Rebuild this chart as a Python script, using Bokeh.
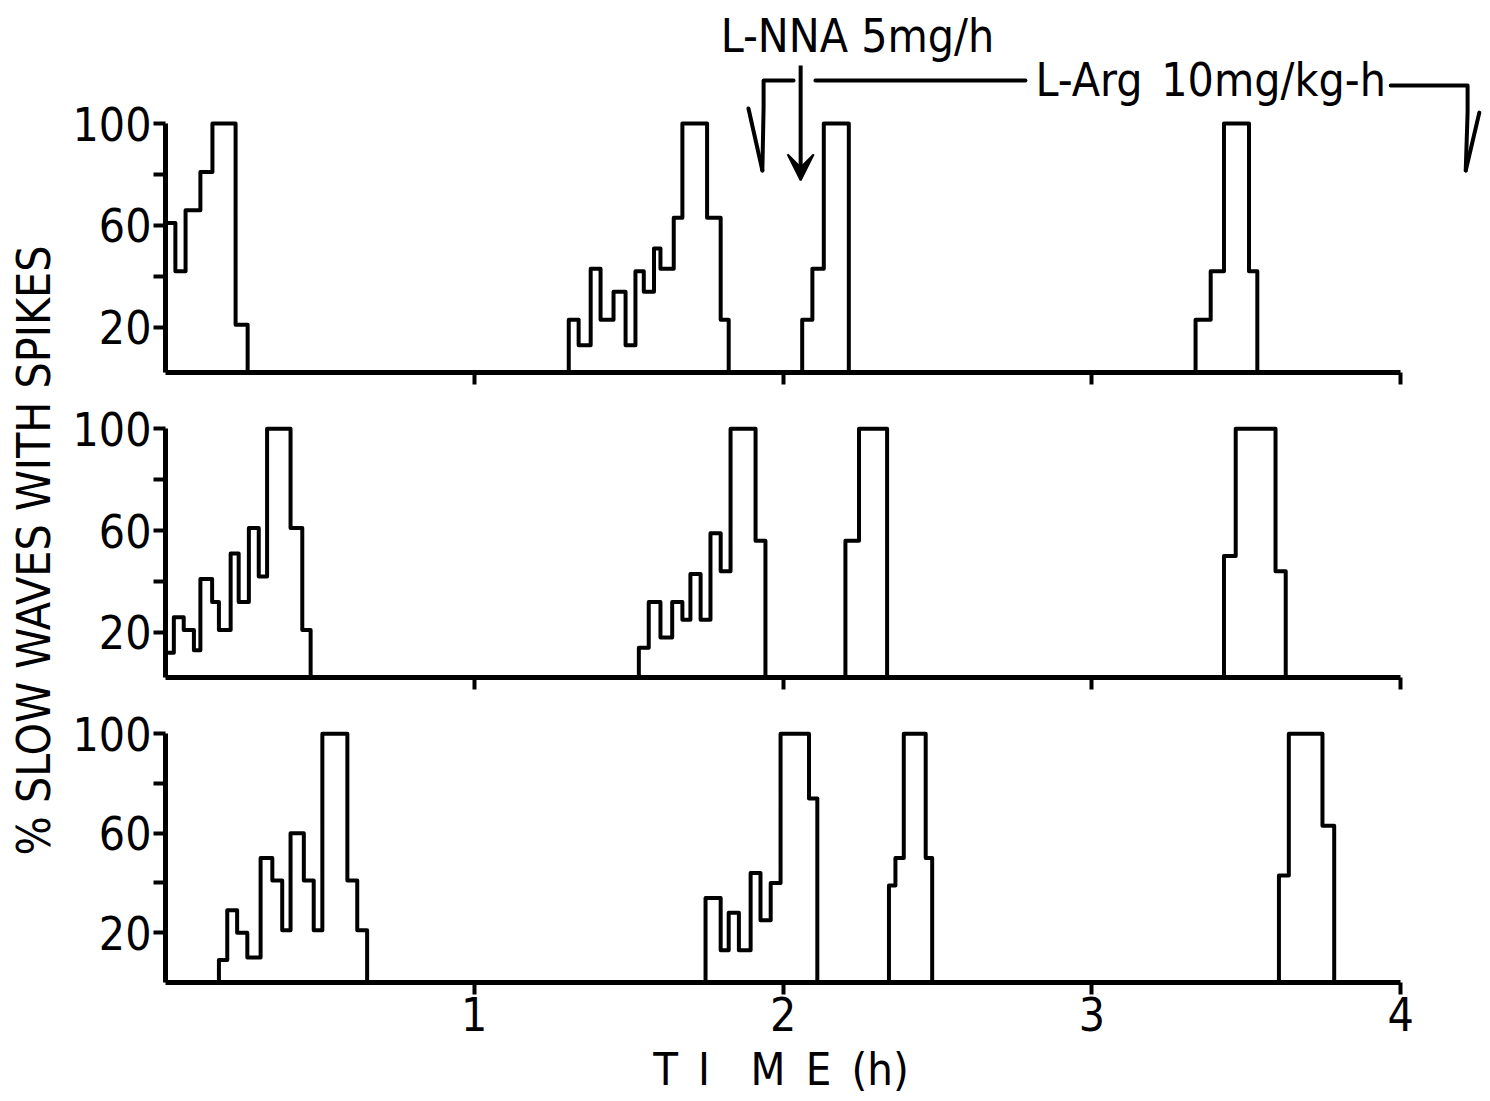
import math
from bokeh.plotting import figure
from bokeh.layouts import row, column
from bokeh.models import FixedTicker, Range1d, Arrow, VeeHead
from bokeh.core.properties import value
from bokeh.embed import file_html
from bokeh.resources import INLINE

FONT = "DejaVu Sans Condensed"

# ---- data: bin edges (h) and % slow waves with spikes for each burst ----
top_edges = [
    [0.000, 0.032, 0.065, 0.113, 0.152, 0.227, 0.266],
    [1.306, 1.338, 1.377, 1.409, 1.451, 1.490, 1.522, 1.549, 1.582, 1.603, 1.646, 1.674, 1.754, 1.798, 1.824],
    [2.062, 2.095, 2.132, 2.213],
    [3.336, 3.385, 3.428, 3.509, 3.536],
]
top_values = [
    [61, 42, 66, 81, 100, 21],
    [23, 13, 43, 23, 34, 13, 42, 34, 51, 43, 63, 100, 63, 23],
    [23, 43, 100],
    [23, 42, 100, 42],
]
mid_edges = [
    [0.000, 0.027, 0.059, 0.092, 0.113, 0.151, 0.173, 0.211, 0.237, 0.270, 0.302, 0.329, 0.405, 0.443, 0.470],
    [1.533, 1.565, 1.603, 1.641, 1.674, 1.700, 1.733, 1.765, 1.798, 1.830, 1.911, 1.943],
    [2.202, 2.246, 2.337],
    [3.428, 3.466, 3.595, 3.628],
]
mid_values = [
    [12, 26, 21, 13, 41, 32, 21, 51, 32, 61, 42, 100, 61, 21],
    [14, 32, 18, 32, 25, 43, 25, 59, 44, 100, 56],
    [56, 100],
    [50, 100, 44],
]
bot_edges = [
    [0.173, 0.200, 0.232, 0.265, 0.308, 0.346, 0.378, 0.405, 0.448, 0.480, 0.508, 0.589, 0.621, 0.653],
    [1.749, 1.798, 1.824, 1.857, 1.895, 1.927, 1.960, 1.992, 2.084, 2.111],
    [2.343, 2.364, 2.391, 2.462, 2.483],
    [3.606, 3.638, 3.747, 3.785],
]
bot_values = [
    [9, 29, 20, 10, 50, 41, 21, 60, 41, 21, 100, 41, 21],
    [34, 13, 28, 13, 44, 25, 40, 100, 74],
    [39, 50, 100, 50],
    [43, 100, 63],
]

x_ticks = [1, 2, 3, 4]
y_ticks = [20, 60, 100]
y_minor_ticks = [40, 80]

y_title = "% SLOW WAVES WITH SPIKES"
# trailing wide spaces shift the centred title left, as in the original
x_title = "T\u2002I\u2003M\u2002E\u2002(h)\u2003\u2003\u2009"
nna_text = "L-NNA 5mg/h"
arg_text1 = "L-Arg"
arg_text2 = "10mg/kg-h"

# annotation anchor positions (h, %) in the top panel
nna_arrow = dict(x=2.057, y0=122.8, y1=77.7)
nna_label = (1.798, 134.3)
arg_label1 = (2.818, 116.9)
arg_label2 = (3.225, 116.9)
bracket_left_x = [2.034, 1.937, 1.937, 1.933]
bracket_left_y = [116.9, 116.9, 106.3, 81.6]
barb_left_x = [1.888, 1.933]
barb_left_y = [105.9, 81.6]
bar_mid_x = [2.105, 2.785]
bar_mid_y = [116.9, 116.9]
bracket_right_x = [3.968, 4.217, 4.217, 4.211]
bracket_right_y = [114.9, 114.9, 104.3, 81.6]
barb_right_x = [4.255, 4.211]
barb_right_y = [104.3, 81.6]

X_END = 4.275


def outline(edges, vals):
    xs = [edges[0]]
    ys = [0]
    for i, v in enumerate(vals):
        xs += [edges[i], edges[i + 1]]
        ys += [v, v]
    xs.append(edges[-1])
    ys.append(0)
    return xs, ys


def panel(height, btop, bbot, ystart, yend, edges_list, values_list, labels):
    p = figure(width=1430, height=height,
               x_range=Range1d(0, X_END), y_range=Range1d(ystart, yend),
               output_backend="svg", toolbar_location=None,
               min_border_left=105, min_border_right=5,
               min_border_top=btop, min_border_bottom=bbot)
    p.xgrid.visible = False
    p.ygrid.visible = False
    p.outline_line_color = None
    p.background_fill_color = "white"
    p.border_fill_color = "white"

    for ax in (p.xaxis[0], p.yaxis[0]):
        ax.axis_line_width = 5
        ax.axis_line_color = "black"
        ax.major_tick_line_width = 4
        ax.major_tick_line_color = "black"
        ax.minor_tick_line_width = 4
        ax.minor_tick_line_color = "black"
        ax.major_tick_in = 0
        ax.major_tick_out = 12
        ax.minor_tick_in = 0
        ax.minor_tick_out = 12
        ax.major_label_text_font = FONT
        ax.major_label_text_color = "black"

    if labels:
        p.xaxis.ticker = FixedTicker(ticks=x_ticks)
        p.xaxis.major_label_text_font_size = "46px"
        p.xaxis.major_label_standoff = 2
        p.xaxis.axis_label = x_title
        p.xaxis.axis_label_text_font = FONT
        p.xaxis.axis_label_text_font_size = "45px"
        p.xaxis.axis_label_text_font_style = "normal"
        p.xaxis.axis_label_text_color = "black"
        p.xaxis.axis_label_standoff = 9
    else:
        # tick marks only (no labels) on the upper panels
        p.xaxis.ticker = FixedTicker(ticks=[], minor_ticks=x_ticks)
        p.xaxis.major_label_standoff = 0
    p.xaxis.bounds = (0, 4)

    p.yaxis.ticker = FixedTicker(ticks=y_ticks, minor_ticks=y_minor_ticks)
    p.yaxis.bounds = (ystart, 100)
    p.yaxis.major_label_text_font_size = "46px"
    p.yaxis.major_label_standoff = 2

    for e, v in zip(edges_list, values_list):
        xs, ys = outline(e, v)
        p.line(xs, ys, line_color="black", line_width=4, line_join="round")
    return p


top = panel(395, 15, 23, 2.3, 142.4, top_edges, top_values, False)
mid = panel(305, 28, 23, 2.3, 102.1, mid_edges, mid_values, False)
bot = panel(401, 28, 119, 0.0, 102.1, bot_edges, bot_values, True)

# annotations in the top panel
top.add_layout(Arrow(end=VeeHead(size=26, line_color="black", fill_color="black", line_width=2),
                     x_start=nna_arrow["x"], y_start=nna_arrow["y0"],
                     x_end=nna_arrow["x"], y_end=nna_arrow["y1"],
                     line_width=4, line_color="black"))
for xs, ys in [(bracket_left_x, bracket_left_y), (barb_left_x, barb_left_y),
               (bar_mid_x, bar_mid_y), (bracket_right_x, bracket_right_y),
               (barb_right_x, barb_right_y)]:
    top.line(xs, ys, line_color="black", line_width=4, line_join="round", line_cap="round")

top.text(x=[nna_label[0]], y=[nna_label[1]], text=[nna_text],
         text_font=value(FONT), text_font_size="46px", text_color="black",
         text_align="left", text_baseline="alphabetic")
top.text(x=[arg_label1[0], arg_label2[0]], y=[arg_label1[1], arg_label2[1]],
         text=[arg_text1, arg_text2],
         text_font=value(FONT), text_font_size="46px", text_color="black",
         text_align="left", text_baseline="alphabetic")

# y axis title strip
ylab = figure(width=60, height=1101, x_range=Range1d(0, 60), y_range=Range1d(0, 1101),
              output_backend="svg", toolbar_location=None,
              x_axis_type=None, y_axis_type=None,
              min_border_left=0, min_border_right=0, min_border_top=0, min_border_bottom=0)
ylab.xgrid.visible = False
ylab.ygrid.visible = False
ylab.outline_line_color = None
ylab.text(x=[33], y=[551], text=[y_title], angle=math.pi / 2,
          text_font=value(FONT), text_font_size="46px", text_color="black",
          text_align="center", text_baseline="middle")

layout = row(ylab, column(top, mid, bot, spacing=0), spacing=0)

with open("out.html", "w") as f:
    f.write(file_html(layout, INLINE))
